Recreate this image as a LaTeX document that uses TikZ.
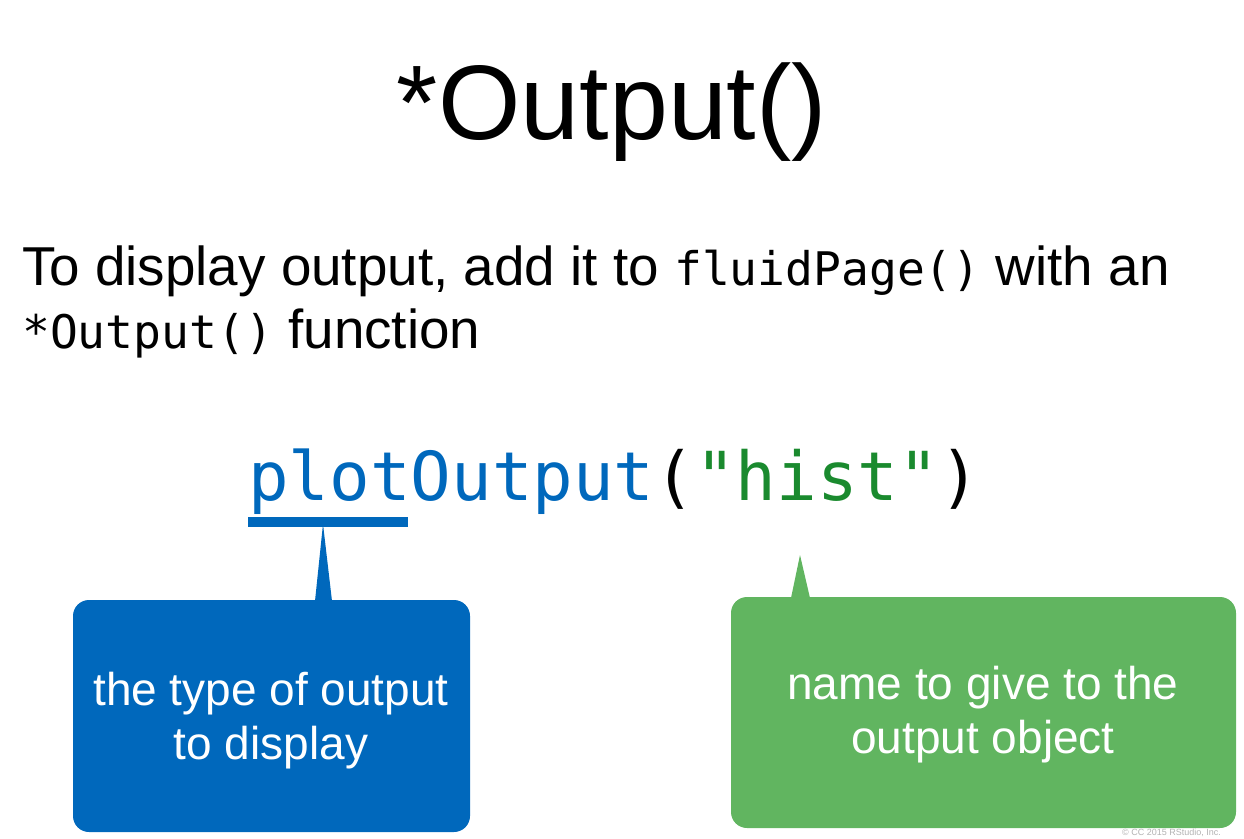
\documentclass[tikz,border=0pt]{standalone}
\usepackage{fontspec}
\setmainfont{Liberation Sans}
\setmonofont{DejaVu Sans Mono}
\usetikzlibrary{calc}
\definecolor{rblue}{HTML}{0068BC}
\definecolor{rgreen}{HTML}{61B560}
\definecolor{strgreen}{HTML}{1A8A2E}
\newcommand{\tfont}{\fontsize{54.8}{60}\selectfont}
\newcommand{\mfont}{\fontsize{46.3}{60}\selectfont\ttfamily}
\begin{document}
\begin{tikzpicture}[x=1pt,y=-1pt,
  callbox/.style={rounded corners=16pt, minimum width=#1, inner sep=0pt, outer sep=0pt},
  calltext/.style={text=white, align=center, font=\fontsize{46}{54}\selectfont, inner sep=0pt}]
\useasboundingbox (0,0) rectangle (1244,838);
% title
\node[anchor=base, font=\fontsize{106}{120}\selectfont, inner sep=0pt] (title) at (612,139) {*Output()};
% body text
\node[anchor=base west, font=\tfont, inner sep=0pt] (body1) at (22,285)
  {To display output, add it to {\mfont fluidPage()} with an};
\node[anchor=base west, font=\tfont, inner sep=0pt] (body2) at (22,348)
  {{\mfont *Output()} function};
% code line
\node[anchor=base west, font=\fontsize{67.5}{70}\selectfont\ttfamily, inner sep=0pt] (code) at (248,500)
  {\textcolor{rblue}{plotOutput}(\textcolor{strgreen}{"hist"})};
\fill[rblue] (248,517) rectangle (408,527);
% blue callout
\node[callbox=397pt, minimum height=232pt, fill=rblue] (bbox) at (271.5,716) {};
\fill[rblue] ($(bbox.north west)+(242,1)$) -- (323,524) -- ($(bbox.north west)+(259,1)$) -- cycle;
\node[calltext] (btext) at (271,721) {the type of output\\to display};
% green callout
\node[callbox=505pt, minimum height=231pt, fill=rgreen] (gbox) at (983.5,712.5) {};
\fill[rgreen] ($(gbox.north west)+(60,1)$) -- (800,555) -- ($(gbox.north west)+(79,1)$) -- cycle;
\node[calltext] (gtext) at (983,715) {name to give to the\\output object};
% footer
\node[anchor=base west, text=black!30, font=\fontsize{9}{11}\selectfont, inner sep=0pt] (copy) at (1122,835) {© CC 2015 RStudio, Inc.};
\end{tikzpicture}
\end{document}
